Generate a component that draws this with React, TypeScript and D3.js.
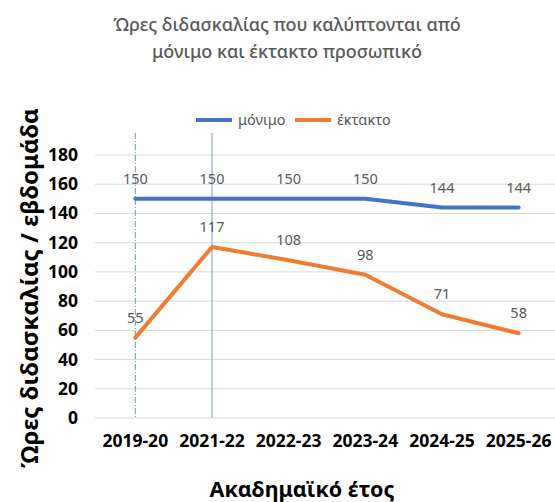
import React from "react";
import * as d3 from "d3";

const categories = ["2019-20", "2021-22", "2022-23", "2023-24", "2024-25", "2025-26"];
const permanent = [150, 150, 150, 150, 144, 144];
const temporary = [55, 117, 108, 98, 71, 58];
const yTicks = [0, 20, 40, 60, 80, 100, 120, 140, 160, 180];
const titleLines = ["Ώρες διδασκαλίας που καλύπτονται από", "μόνιμο και έκτακτο προσωπικό"];
const seriesNames = ["μόνιμο", "έκτακτο"];
const colors = ["#4472C4", "#ED7D31"];

export default function App() {
  const W = 555, H = 502;
  const x = d3.scaleBand<string>().domain(categories).range([97, 557]);
  const y = d3.scaleLinear().domain([0, 180]).range([418, 155]);
  const cx = (c: string) => (x(c) as number) + x.bandwidth() / 2;
  const line = d3.line<number>().x((_, i) => cx(categories[i])).y((d) => y(d));
  const font = "'Noto Sans', 'Open Sans', sans-serif";
  const series = [permanent, temporary];
  return (
    <svg width={W} height={H} style={{ position: "absolute", left: 0, top: 0, background: "#fff" }} fontFamily={font}>
      <rect width={W} height={H} fill="#fff" />
      {titleLines.map((t, i) => (
        <text key={i} x={287} y={31 + i * 27} textAnchor="middle" fontSize={18} fontWeight={500} fill="#595959">{t}</text>
      ))}
      {yTicks.map((t) => (
        <g key={t}>
          <line x1={95} x2={555} y1={y(t)} y2={y(t)} stroke="#D9D9D9" strokeWidth={1} />
          <text x={78} y={y(t) + 6} textAnchor="end" fontSize={17.5} fontWeight="bold" fill="#000">{t}</text>
        </g>
      ))}
      <line x1={cx(categories[0])} x2={cx(categories[0])} y1={133} y2={418} stroke="#6F94D6" strokeWidth={1} strokeDasharray="6,2,1,2" />
      <line x1={cx(categories[1])} x2={cx(categories[1])} y1={133} y2={418} stroke="#8FAADC" strokeWidth={1.2} />
      {categories.map((c) => (
        <text key={c} x={cx(c)} y={447} textAnchor="middle" fontSize={17.5} fontWeight="bold" fill="#000">{c}</text>
      ))}
      <text x={302} y={497} textAnchor="middle" fontSize={21.5} fontWeight="bold" fill="#000">Ακαδημαϊκό έτος</text>
      <text transform={`translate(38,${288}) rotate(-90)`} textAnchor="middle" fontSize={24} fontWeight="bold" fill="#000">Ώρες διδασκαλίας / εβδομάδα</text>
      {series.map((s, k) => (
        <path key={k} d={line(s) || ""} fill="none" stroke={colors[k]} strokeWidth={4} strokeLinejoin="round" strokeLinecap="round" />
      ))}
      {series.map((s, k) =>
        s.map((v, i) => (
          <text key={`${k}-${i}`} x={cx(categories[i])} y={y(v) - 15} textAnchor="middle" fontSize={14.5} fill="#595959">{v}</text>
        ))
      )}
      {seriesNames.map((n, k) => (
        <g key={n} transform={`translate(${196 + k * 99},120)`}>
          <line x1={0} x2={36} y1={0} y2={0} stroke={colors[k]} strokeWidth={4} />
          <text x={42} y={5} fontSize={14.5} fill="#595959">{n}</text>
        </g>
      ))}
    </svg>
  );
}
